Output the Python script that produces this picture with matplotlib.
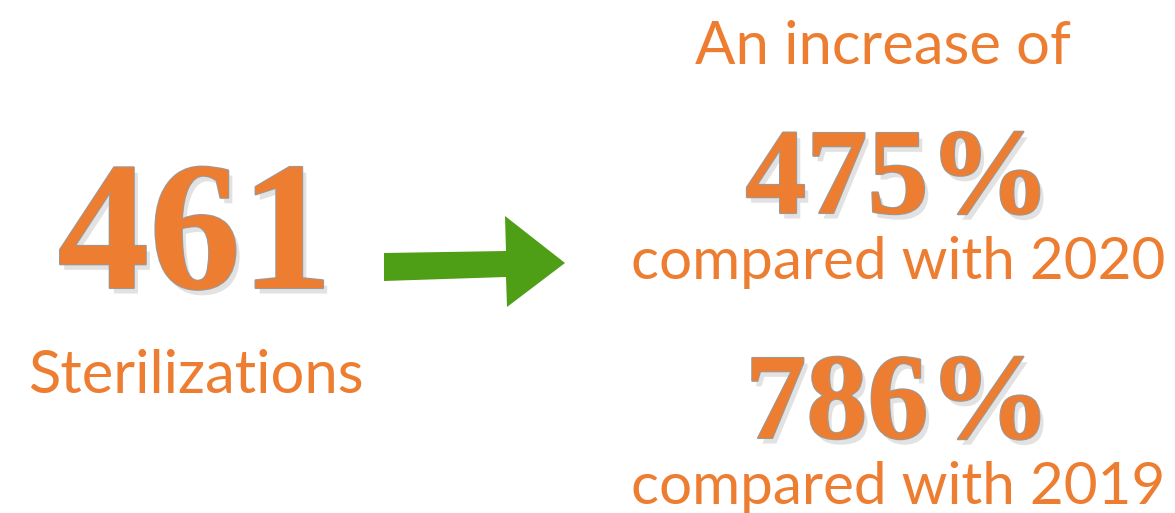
import matplotlib
matplotlib.use("Agg")
import matplotlib.pyplot as plt
import matplotlib.patheffects as pe
from matplotlib.patches import Polygon

# Infographic content
total_value = "461"
total_label = "Sterilizations"
headline = "An increase of"
increases = ["475%", "786%"]
compared = ["compared with 2020", "compared with 2019"]

orange = "#ED7D31"
green = "#4E9F16"

fig = plt.figure(figsize=(11.75, 5.13), dpi=100)
ax = fig.add_axes([0, 0, 1, 1])
ax.set_xlim(0, 1175)
ax.set_ylim(513, 0)
ax.axis("off")

big_fx = [pe.withSimplePatchShadow(offset=(3, -4), shadow_rgbFace="#c0c0c0", alpha=0.45),
          pe.withStroke(linewidth=1.5, foreground="#9a9a9a")]

# left block
ax.text(195, 288, total_value, fontsize=132, family="Liberation Serif", weight="bold",
        color=orange, ha="center", va="baseline", path_effects=big_fx)
ax.text(196, 393, total_label, fontsize=43, family="Lato", color=orange,
        ha="center", va="baseline")

# arrow
arrow = Polygon([(384, 253), (506, 251), (505, 216), (565, 263), (507, 307),
                 (506, 277), (384, 281)], closed=True, color=green, lw=0)
ax.add_patch(arrow)

# right block
ax.text(883, 64, headline, fontsize=43, family="Lato", color=orange,
        ha="center", va="baseline")
for i, (val, txt) in enumerate(zip(increases, compared)):
    y0 = 213 + i * 225
    ax.text(898, y0, val, fontsize=88, family="Liberation Serif", weight="bold",
            color=orange, ha="center", va="baseline", path_effects=big_fx)
    ax.text(898, y0 + 66, txt, fontsize=42, family="Lato", color=orange,
            ha="center", va="baseline")

fig.savefig("out.png", dpi=100, facecolor="white")
